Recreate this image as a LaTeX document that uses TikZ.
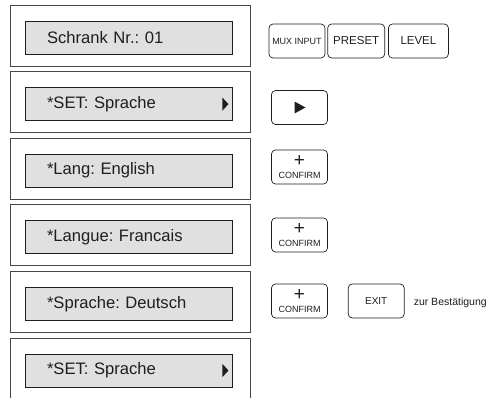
\documentclass[tikz,border=0pt]{standalone}
\usepackage{fontspec}
\setmainfont{Liberation Sans}
\usetikzlibrary{positioning}
\definecolor{framegray}{RGB}{70,70,70}
\definecolor{lcdfill}{RGB}{224,224,224}
\definecolor{inkgray}{RGB}{30,30,30}

\begin{document}
\frenchspacing
\begin{tikzpicture}[x=1pt, y=-1pt,
  panel/.style={draw=framegray, line width=0.9pt, fill=white,
    minimum width=240pt, minimum height=61pt, inner sep=0pt},
  lcd/.style={draw=inkgray, line width=0.9pt, fill=lcdfill,
    minimum width=207pt, minimum height=33pt, text width=163pt,
    inner xsep=22pt, inner ysep=0pt, align=left,
    font=\fontsize{16.6}{18}\selectfont, text=inkgray},
  btn/.style={draw=inkgray, line width=0.7pt, rounded corners=4pt,
    minimum width=56pt, minimum height=34pt, inner sep=0pt,
    align=center, text=inkgray},
  confbtn/.style={btn, font=\fontsize{9}{12}\selectfont},
]
  \useasboundingbox (0,0) rectangle (493,397);

  % === DISPLAY ROWS ===
  \foreach \i/\txt in {1/{Schrank Nr.: 01}, 2/{*SET: Sprache},
      3/{*Lang: English}, 4/{*Langue: Francais},
      5/{*Sprache: Deutsch}, 6/{*SET: Sprache}} {
    \node[panel] (pan\i) at (130, {35.5+66.6*(\i-1)}) {};
    \node[lcd] (lcd\i) at (128.5, {37.5+66.6*(\i-1)}) {\txt};
  }

  % Arrow marks in the display
  \foreach \i in {2,6} {
    \fill[inkgray] ([xshift=-10pt, yshift=6.5pt]lcd\i.east)
      -- ++(6,6.5) -- ++(-6,6.5) -- cycle;
  }

  % === KEYS ===
  \node[btn, font=\fontsize{9}{10}\selectfont] (mux) at (297, 41) {MUX INPUT};
  \node[btn, minimum width=57pt, font=\fontsize{11.5}{12}\selectfont, right=2pt of mux] (preset) {PRESET};
  \node[btn, minimum width=60pt, font=\fontsize{11.5}{12}\selectfont, right=3pt of preset] (level) {LEVEL};

  \node[btn] (play) at (299.5, 107.5) {};
  \fill[inkgray] ([xshift=-5pt, yshift=6pt]play.center)
    -- ++(11,6) -- ++(-11,6) -- cycle;

  \node[confbtn] (conf3) at (299.5, 167) {{\fontsize{19}{12}\selectfont +}\\CONFIRM};
  \node[confbtn] (conf4) at (299.5, 235) {{\fontsize{19}{12}\selectfont +}\\CONFIRM};
  \node[confbtn] (conf5) at (299.5, 301) {{\fontsize{19}{12}\selectfont +}\\CONFIRM};
  \node[btn, font=\fontsize{10}{12}\selectfont, right=20pt of conf5] (exitb) {EXIT};
  \node[inner sep=0pt, right=9pt of exitb, yshift=-2pt, text=inkgray,
    font=\fontsize{10.5}{12}\selectfont] (note) {zur Bestätigung};
\end{tikzpicture}
\end{document}
